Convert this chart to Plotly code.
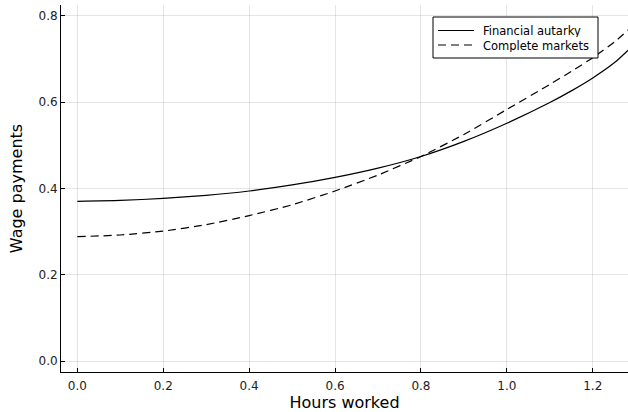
import plotly.graph_objects as go

hours = [0.0, 0.1, 0.2, 0.3, 0.4, 0.5, 0.6, 0.7, 0.8, 0.9, 1.0, 1.1, 1.15, 1.2, 1.25, 1.3]
financial_autarky = [0.370, 0.372, 0.377, 0.384, 0.394, 0.408, 0.4255, 0.447, 0.474, 0.509, 0.551, 0.599, 0.626, 0.656, 0.691, 0.737]
complete_markets = [0.288, 0.292, 0.301, 0.316, 0.337, 0.362, 0.394, 0.431, 0.474, 0.525, 0.583, 0.641, 0.671, 0.703, 0.739, 0.783]

series_names = ["Financial autarky", "Complete markets"]
x_ticks = [0.0, 0.2, 0.4, 0.6, 0.8, 1.0, 1.2]
y_ticks = [0.0, 0.2, 0.4, 0.6, 0.8]

DASH = "8px,5px"

fig = go.Figure()
fig.add_trace(go.Scatter(x=hours, y=financial_autarky, mode="lines", name=series_names[0],
                         line=dict(color="black", width=1.2, shape="spline", smoothing=0.6)))
fig.add_trace(go.Scatter(x=hours, y=complete_markets, mode="lines", name=series_names[1],
                         line=dict(color="black", width=1.2, dash=DASH, shape="spline", smoothing=0.6)))

axis_common = dict(
    showgrid=True, gridcolor="rgba(0,0,0,0.1)", gridwidth=0.5,
    zeroline=False, showline=True, linecolor="black", linewidth=1,
    ticks="inside", ticklen=4, tickcolor="black", tickwidth=1,
    tickfont=dict(family="DejaVu Sans", size=12, color="#222"),
    tickformat=".1f", automargin=False,
)

# plot area in pixels: x 61..628, y 5..372
def px(xp):
    return (xp - 61) / 567.0

def py(yp):
    return (372 - yp) / 367.0

ROW1, ROW2 = 30.5, 45.0

shapes = [
    dict(type="rect", xref="paper", yref="paper", x0=px(433), x1=px(598), y0=py(58), y1=py(17),
         line=dict(color="black", width=1), fillcolor="white", layer="above"),
    dict(type="line", xref="paper", yref="paper", x0=px(438), x1=px(474), y0=py(ROW1), y1=py(ROW1),
         line=dict(color="black", width=1.2), layer="above"),
    dict(type="line", xref="paper", yref="paper", x0=px(438), x1=px(474), y0=py(ROW2), y1=py(ROW2),
         line=dict(color="black", width=1.2, dash=DASH), layer="above"),
]
annotations = [
    dict(text=series_names[0], xref="paper", yref="paper", x=px(482), y=py(ROW1),
         xanchor="left", yanchor="middle", showarrow=False, height=13, borderpad=0,
         font=dict(family="DejaVu Sans", size=11.5, color="black")),
    dict(text=series_names[1], xref="paper", yref="paper", x=px(482), y=py(ROW2),
         xanchor="left", yanchor="middle", showarrow=False, height=13, borderpad=0,
         font=dict(family="DejaVu Sans", size=11.5, color="black")),
]

fig.update_layout(
    width=628, height=412,
    margin=dict(l=61, r=0, t=5, b=40),
    plot_bgcolor="white", paper_bgcolor="white",
    font=dict(family="DejaVu Sans", color="black"),
    xaxis=dict(range=[-0.038, 1.282], tickvals=x_ticks, ticklabelstandoff=3,
               title=dict(text="Hours worked", font=dict(size=16), standoff=5),
               **axis_common),
    yaxis=dict(range=[-0.0255, 0.825], tickvals=y_ticks,
               title=dict(text="Wage payments", font=dict(size=16), standoff=11),
               **axis_common),
    showlegend=False,
    shapes=shapes,
    annotations=annotations,
)

fig.write_html("out.html", config={"displayModeBar": False},
               post_script="document.body.style.margin='0';document.body.style.overflow='hidden';")
